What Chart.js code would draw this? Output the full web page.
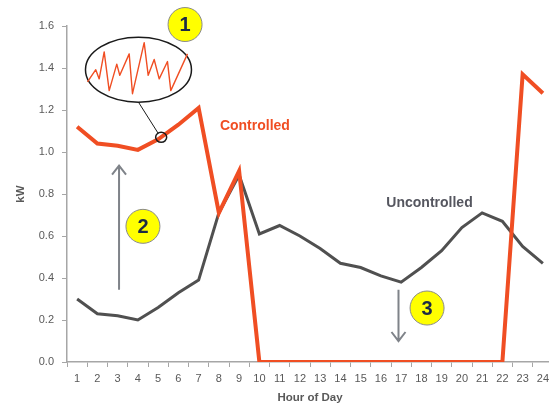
<!DOCTYPE html>
<html lang="en">
  <head>
    <meta charset="UTF-8" />
    <title>Controlled vs Uncontrolled Load</title>
    <style>
      * {
        margin: 0;
        padding: 0;
      }
      body {
        width: 549px;
        height: 405px;
        overflow: hidden;
        background: #ffffff;
      }
      canvas {
        display: block;
      }
    </style>
  </head>
  <body>
    <canvas id="myChart" width="554" height="405"></canvas>

    <script src="https://cdn.jsdelivr.net/npm/chart.js"></script>

    <script>
      // data block
      const hours = ["1", "2", "3", "4", "5", "6", "7", "8", "9", "10", "11", "12",
        "13", "14", "15", "16", "17", "18", "19", "20", "21", "22", "23", "24"];
      const controlled = [1.12, 1.04, 1.03, 1.01, 1.06, 1.13, 1.21, 0.71, 0.91, 0, 0, 0,
        0, 0, 0, 0, 0, 0, 0, 0, 0, 0, 1.37, 1.28];
      const uncontrolled = [0.30, 0.23, 0.22, 0.20, 0.26, 0.33, 0.39, 0.71, 0.89, 0.61, 0.65, 0.60,
        0.54, 0.47, 0.45, 0.41, 0.38, 0.45, 0.53, 0.64, 0.71, 0.67, 0.55, 0.47];
      const yTicks = [0, 0.2, 0.4, 0.6, 0.8, 1.0, 1.2, 1.4, 1.6];
      // zig-zag sketch inside the zoom bubble: [position along width, relative height]
      const insetWave = [[0, 0.23], [0.083, 0.47], [0.117, 0.29], [0.167, 0.82], [0.217, 0.06],
        [0.293, 0.58], [0.323, 0.36], [0.417, 0.78], [0.45, 0], [0.567, 1], [0.607, 0.36],
        [0.667, 0.67], [0.717, 0.29], [0.8, 0.63], [0.833, 0.06], [1, 0.78]];

      const RED = "#f04e23";
      const DARK = "#505050";
      const AXIS = "#a6a6a6";
      const TEXT = "#595959";

      // annotations plugin block
      const annotations = {
        id: "annotations",
        afterDatasetsDraw(chart) {
          const { ctx, scales: { x, y } } = chart;
          const px = (i) => x.getPixelForValue(i);
          const py = (v) => y.getPixelForValue(v);
          ctx.save();

          // series labels
          ctx.font = "bold 14px 'Liberation Sans', sans-serif";
          ctx.textBaseline = "middle";
          ctx.textAlign = "left";
          ctx.fillStyle = RED;
          ctx.fillText("Controlled", px(7.05), py(1.125));
          ctx.fillStyle = "#55565f";
          ctx.fillText("Uncontrolled", px(15.27), py(0.755));

          // arrows
          const arrow = (xi, v0, v1) => {
            const ax = px(xi), y0 = py(v0), y1 = py(v1);
            const dir = y1 > y0 ? 1 : -1;
            ctx.strokeStyle = "#7f8389";
            ctx.lineWidth = 2;
            ctx.beginPath();
            ctx.moveTo(ax, y0);
            ctx.lineTo(ax, y1);
            ctx.moveTo(ax - 7, y1 - dir * 9);
            ctx.lineTo(ax, y1);
            ctx.lineTo(ax + 7, y1 - dir * 9);
            ctx.stroke();
          };
          arrow(2.07, 0.344, 0.935);
          arrow(15.87, 0.344, 0.10);

          // numbered yellow badges
          const badge = (xi, v, txt) => {
            ctx.beginPath();
            ctx.arc(px(xi), py(v), 17, 0, Math.PI * 2);
            ctx.fillStyle = "#ffff00";
            ctx.fill();
            ctx.strokeStyle = "#8a8a8a";
            ctx.lineWidth = 1;
            ctx.stroke();
            ctx.fillStyle = "#1c2a45";
            ctx.font = "bold 20px 'Liberation Sans', sans-serif";
            ctx.textAlign = "center";
            ctx.textBaseline = "middle";
            ctx.fillText(txt, px(xi), py(v) + 1);
          };
          badge(5.33, 1.607, "1");
          badge(3.25, 0.646, "2");
          badge(17.28, 0.257, "3");

          // zoom bubble
          const cx = px(3.03), cy = py(1.392);
          const rx = 53, ry = 32.5;
          ctx.strokeStyle = "#1a1a1a";
          ctx.lineWidth = 1.5;
          ctx.beginPath();
          ctx.ellipse(cx, cy, rx, ry, 0, 0, Math.PI * 2);
          ctx.stroke();
          // pointer + small circle on the line
          const sx = px(4.15), sy = py(1.07);
          ctx.lineWidth = 1;
          ctx.beginPath();
          ctx.moveTo(cx, cy + ry);
          ctx.lineTo(sx - 3, sy - 4);
          ctx.stroke();
          ctx.lineWidth = 1.5;
          ctx.beginPath();
          ctx.ellipse(sx, sy, 5.5, 5, 0, 0, Math.PI * 2);
          ctx.stroke();

          // wave inside the bubble
          const wx0 = cx - 51, wx1 = cx + 49;
          const wTop = cy - 27, wBot = cy + 24;
          ctx.strokeStyle = RED;
          ctx.lineWidth = 1.4;
          ctx.lineJoin = "round";
          ctx.beginPath();
          insetWave.forEach(([t, h], i) => {
            const wx = wx0 + (wx1 - wx0) * t;
            const wy = wBot - h * (wBot - wTop);
            if (i === 0) ctx.moveTo(wx, wy);
            else ctx.lineTo(wx, wy);
          });
          ctx.stroke();

          ctx.restore();
        }
      };

      // config block
      const config = {
        type: "line",
        data: {
          labels: hours,
          datasets: [
            {
              label: "Controlled",
              data: controlled,
              borderColor: RED,
              borderWidth: 4,
              pointRadius: 0,
              tension: 0,
              borderJoinStyle: "miter"
            },
            {
              label: "Uncontrolled",
              data: uncontrolled,
              borderColor: DARK,
              borderWidth: 3,
              pointRadius: 0,
              tension: 0
            }
          ]
        },
        options: {
          responsive: false,
          animation: false,
          layout: { padding: { top: 26, left: 0, right: 0, bottom: 0 } },
          plugins: {
            legend: { display: false },
            tooltip: { enabled: false }
          },
          scales: {
            x: {
              offset: true,
              grid: {
                offset: true,
                drawOnChartArea: false,
                tickLength: 5,
                color: AXIS
              },
              border: { color: AXIS, width: 1.5 },
              ticks: {
                color: TEXT,
                padding: 5,
                maxRotation: 0,
                autoSkip: false,
                font: { family: "'Liberation Sans', sans-serif", size: 11 }
              },
              title: {
                display: true,
                text: "Hour of Day",
                color: TEXT,
                padding: { top: 3, bottom: 0 },
                font: { family: "'Liberation Sans', sans-serif", size: 11.5, weight: "bold" }
              },
              afterFit(scale) {
                scale.height = 43;
              }
            },
            y: {
              min: 0,
              max: 1.6,
              afterBuildTicks(scale) {
                scale.ticks = yTicks.map((v) => ({ value: v }));
              },
              grid: {
                drawOnChartArea: false,
                tickLength: 5,
                color: AXIS
              },
              border: { color: AXIS, width: 1.5 },
              ticks: {
                color: TEXT,
                padding: 8,
                callback: (v) => Number(v).toFixed(1),
                font: { family: "'Liberation Sans', sans-serif", size: 11 }
              },
              title: {
                display: true,
                text: "kW",
                color: TEXT,
                padding: { top: 14, bottom: 0 },
                font: { family: "'Liberation Sans', sans-serif", size: 11.5, weight: "bold" }
              },
              afterFit(scale) {
                scale.width = 67;
              }
            }
          }
        },
        plugins: [annotations]
      };

      // init render block
      const myChart = new Chart(document.getElementById("myChart"), config);
    </script>
  </body>
</html>
